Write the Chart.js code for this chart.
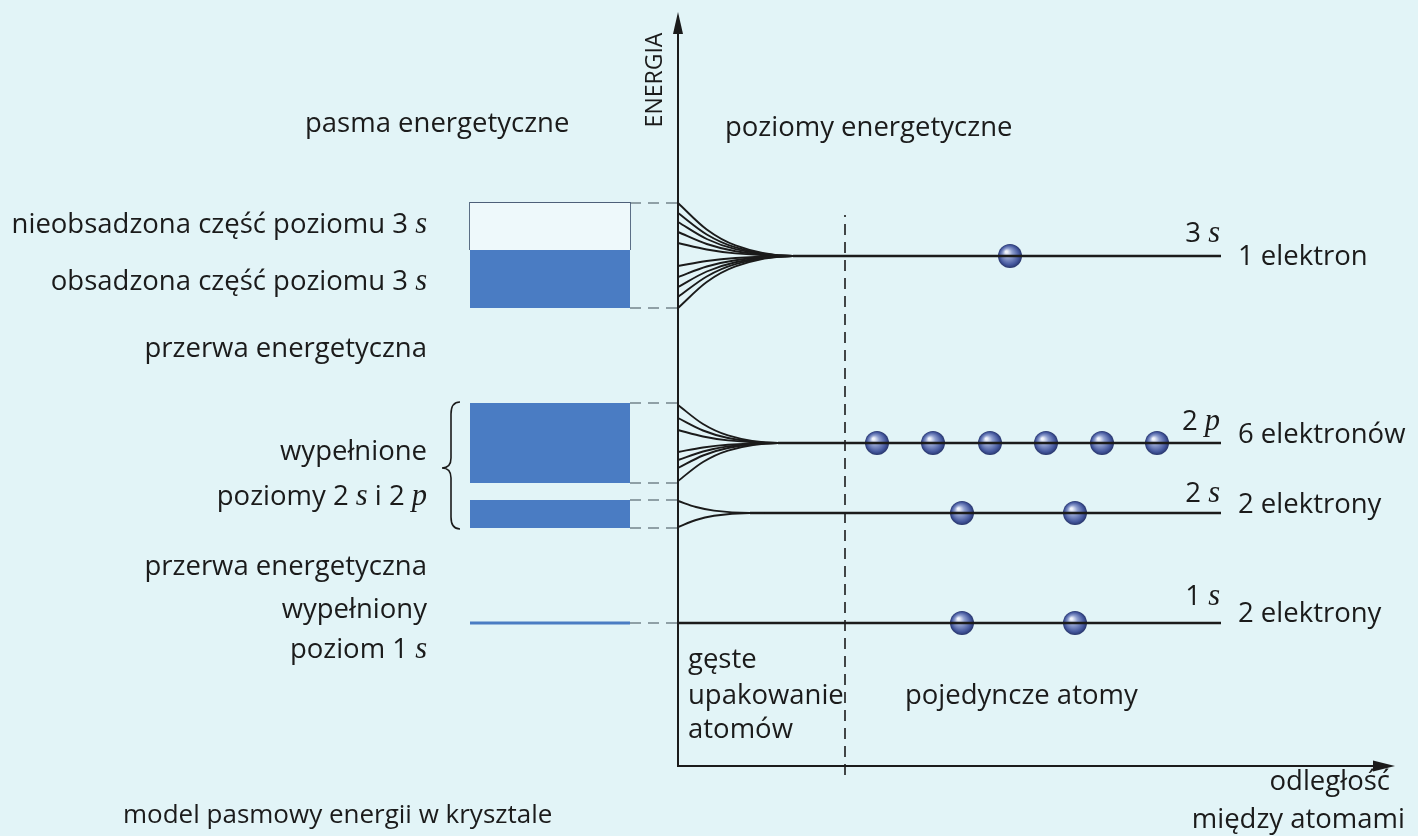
<!DOCTYPE html>
<html>
<head>
<meta charset="utf-8">
<script src="https://cdn.jsdelivr.net/npm/chart.js@4.4.1/dist/chart.umd.min.js"></script>
<style>
html, body { margin: 0; padding: 0; background: #e2f4f7; }
#wrap { width: 1418px; height: 836px; position: relative; }
</style>
</head>
<body>
<div id="wrap"><canvas id="bandChart"></canvas></div>
<script>
// energy levels (arbitrary units), order: 1s, 2s, 2p, 3s
const levelNames = ["1s", "2s", "2p", "3s"];
const levelEnergy = [14.3, 25.3, 32.3, 51.0];
const bandTop = [14.45, 26.6, 36.3, 56.3];
const bandFilledTop = [14.45, 26.6, 36.3, 51.6];
const bandBottom = [14.15, 23.8, 28.3, 45.8];
// where the split lines meet the atomic level (distance units)
const fanEndX = [0, 7.2, 10.0, 11.5];
const fanStarts = [
    [],
    [26.5, 23.9],
    [36.1, 34.8, 33.6, 31.4, 30.6, 29.8, 28.5],
    [56.3, 55.3, 54.4, 53.4, 52.3, 50.0, 48.9, 47.9, 46.9, 45.8]
];
// shape of a split line: share of the way covered vs share of distance
const fanShapeX = [0, 0.25, 0.5, 1, 1.2];
const fanShapeY = [0, 0.5, 0.8, 1, 1];
const electronX = [
    [28.4, 39.7],
    [28.4, 39.7],
    [19.9, 25.5, 31.2, 36.8, 42.4, 47.9],
    [33.2]
];
const levelEndX = 54.3;
const bandX = [-20.8, -4.8];
const packedLimitX = 16.7;
const axisTop = 75.4;
const axisRight = 71.7;

const ink = "#1b1b1b";
const bandBlue = "#4a7cc3";

function makeElectron(r) {
    const c = document.createElement("canvas");
    c.width = c.height = r * 2 + 2;
    const g = c.getContext("2d");
    const cx = r + 1, cy = r + 1;
    const grad = g.createRadialGradient(cx - r * 0.3, cy - r * 0.35, r * 0.08, cx, cy, r);
    grad.addColorStop(0, "#f1f4fb");
    grad.addColorStop(0.35, "#8f9fcf");
    grad.addColorStop(0.8, "#43569c");
    grad.addColorStop(1, "#27356b");
    g.fillStyle = grad;
    g.beginPath();
    g.arc(cx, cy, r, 0, Math.PI * 2);
    g.fill();
    return c;
}

const datasets = [];
const line = (data, opts) => Object.assign({
    data: data, borderColor: ink, borderWidth: 2, pointRadius: 0, fill: false
}, opts || {});

// axes
datasets.push(line([{ x: 0, y: axisTop - 2 }, { x: 0, y: 0 }, { x: axisRight - 2, y: 0 }], { borderWidth: 2 }));
// dense packing limit
datasets.push(line([{ x: packedLimitX, y: -0.9 }, { x: packedLimitX, y: 55.1 }], { borderWidth: 1.6, borderDash: [11, 7] }));

// bands (filled part between two edges)
levelNames.forEach((n, i) => {
    datasets.push(line([{ x: bandX[0], y: bandFilledTop[i] }, { x: bandX[1], y: bandFilledTop[i] }],
        { borderWidth: 0, borderColor: "transparent", backgroundColor: bandBlue, fill: "+1" }));
    datasets.push(line([{ x: bandX[0], y: bandBottom[i] }, { x: bandX[1], y: bandBottom[i] }],
        { borderWidth: 0, borderColor: "transparent" }));
});
// empty upper part of the 3s band
datasets.push(line([{ x: bandX[0], y: bandTop[3] }, { x: bandX[1], y: bandTop[3] }],
    { borderWidth: 0, borderColor: "transparent", backgroundColor: "#eef9fb", fill: "+1" }));
datasets.push(line([{ x: bandX[0], y: bandFilledTop[3] }, { x: bandX[1], y: bandFilledTop[3] }],
    { borderWidth: 0, borderColor: "transparent" }));
datasets.push(line([
    { x: bandX[0], y: bandFilledTop[3] }, { x: bandX[0], y: bandTop[3] },
    { x: bandX[1], y: bandTop[3] }, { x: bandX[1], y: bandFilledTop[3] }
], { borderWidth: 1.8, borderColor: "#4d6079" }));

// dashed connectors band edge -> energy axis
levelNames.forEach((n, i) => {
    [bandTop[i], bandBottom[i]].forEach(e => {
        if (i === 0 && e === bandBottom[0]) return;
        const y = i === 0 ? levelEnergy[0] : e;
        datasets.push(line([{ x: bandX[1], y: y }, { x: 0, y: y }],
            { borderWidth: 1.6, borderColor: "#74848c", borderDash: [11, 7] }));
    });
});

// split lines near the axis
levelNames.forEach((n, i) => {
    fanStarts[i].forEach(s => {
        const pts = fanShapeX.map((fx, k) => ({
            x: fx * fanEndX[i],
            y: s + (levelEnergy[i] - s) * fanShapeY[k]
        }));
        datasets.push(line(pts, { borderWidth: 1.9, cubicInterpolationMode: "monotone" }));
    });
});

// atomic levels
levelNames.forEach((n, i) => {
    datasets.push(line([{ x: fanEndX[i], y: levelEnergy[i] }, { x: levelEndX, y: levelEnergy[i] }], { borderWidth: 2.5 }));
});

// electrons
const electronPts = [];
levelNames.forEach((n, i) => electronX[i].forEach(x => electronPts.push({ x: x, y: levelEnergy[i] })));
datasets.push({
    data: electronPts, showLine: false, pointStyle: makeElectron(12),
    pointRadius: 12, pointHoverRadius: 12
});

// text: [parts, x, y(baseline), align]; a part flagged 1 is an italic symbol
const labels = [
    [[["pasma energetyczne"]], -37.3, 63.4, "left"],
    [[["nieobsadzona część poziomu 3 "], ["s", 1]], -25.1, 53.3, "right"],
    [[["obsadzona część poziomu 3 "], ["s", 1]], -25.1, 47.6, "right"],
    [[["przerwa energetyczna"]], -25.1, 40.9, "right"],
    [[["wypełnione"]], -25.1, 30.6, "right"],
    [[["poziomy 2 "], ["s", 1], [" i 2 "], ["p", 1]], -25.1, 26.1, "right"],
    [[["przerwa energetyczna"]], -25.1, 19.1, "right"],
    [[["wypełniony"]], -25.1, 14.8, "right"],
    [[["poziom 1 "], ["s", 1]], -25.1, 10.8, "right"],
    [[["poziomy energetyczne"]], 4.7, 63.0, "left"],
    [[["3 "], ["s", 1]], 54.2, 52.4, "right"],
    [[["1 elektron"]], 56.0, 50.1, "left"],
    [[["2 "], ["p", 1]], 54.2, 33.6, "right"],
    [[["6 elektronów"]], 56.0, 32.3, "left"],
    [[["2 "], ["s", 1]], 54.2, 26.4, "right"],
    [[["2 elektrony"]], 56.0, 25.3, "left"],
    [[["1 "], ["s", 1]], 54.2, 16.1, "right"],
    [[["2 elektrony"]], 56.0, 14.4, "left"],
    [[["gęste"]], 1.0, 9.8, "left"],
    [[["upakowanie"]], 1.0, 6.2, "left"],
    [[["atomów"]], 1.0, 2.8, "left"],
    [[["pojedyncze atomy"]], 22.7, 6.2, "left"],
    [[["odległość"]], 71.2, -2.4, "right"],
    [[["między atomami"]], 72.7, -6.2, "right"]
];
const caption = "model pasmowy energii w krysztale";
const axisName = "ENERGIA";

function drawParts(ctx, parts, px, py, align, size) {
    const fonts = parts.map(p => p[1] ? `italic ${size + 3}px "Liberation Serif"` : `${size}px "Open Sans"`);
    const widths = parts.map((p, i) => { ctx.font = fonts[i]; return ctx.measureText(p[0]).width; });
    const total = widths.reduce((a, b) => a + b, 0);
    let x = align === "right" ? px - total : px;
    parts.forEach((p, i) => {
        ctx.font = fonts[i];
        ctx.fillText(p[0], x, py);
        x += widths[i];
    });
}

const decor = {
    id: "decor",
    afterDatasetsDraw(chart) {
        const ctx = chart.ctx;
        const xs = chart.scales.x, ys = chart.scales.y;
        ctx.save();
        ctx.fillStyle = ink;
        ctx.strokeStyle = ink;
        // arrow heads
        const ax = xs.getPixelForValue(0), ay = ys.getPixelForValue(0);
        const ty = ys.getPixelForValue(axisTop), tx = xs.getPixelForValue(axisRight);
        ctx.beginPath();
        ctx.moveTo(ax, ty); ctx.lineTo(ax - 5, ty + 22); ctx.lineTo(ax + 5, ty + 22); ctx.closePath();
        ctx.fill();
        ctx.beginPath();
        ctx.moveTo(tx, ay); ctx.lineTo(tx - 22, ay - 5.5); ctx.lineTo(tx - 22, ay + 5.5); ctx.closePath();
        ctx.fill();

        // brace for 2s and 2p bands
        const bx = xs.getPixelForValue(-22.7), br = xs.getPixelForValue(-21.8), bl = xs.getPixelForValue(-23.6);
        const bt = ys.getPixelForValue(bandTop[2] + 0.1), bb = ys.getPixelForValue(bandBottom[1] - 0.1);
        const bc = ys.getPixelForValue(29.8);
        ctx.lineWidth = 1.6;
        ctx.beginPath();
        ctx.moveTo(br, bt);
        ctx.quadraticCurveTo(bx, bt, bx, bt + 12);
        ctx.lineTo(bx, bc - 10);
        ctx.quadraticCurveTo(bx, bc, bl, bc);
        ctx.quadraticCurveTo(bx, bc, bx, bc + 10);
        ctx.lineTo(bx, bb - 12);
        ctx.quadraticCurveTo(bx, bb, br, bb);
        ctx.stroke();

        ctx.textBaseline = "alphabetic";
        ctx.textAlign = "left";
        labels.forEach(l => drawParts(ctx, l[0], xs.getPixelForValue(l[1]), ys.getPixelForValue(l[2]), l[3], 27.5));

        ctx.font = '500 26px "Open Sans"';
        ctx.fillText(caption, xs.getPixelForValue(-55.5), ys.getPixelForValue(-5.7));

        ctx.translate(xs.getPixelForValue(-2.3), ys.getPixelForValue(68.6));
        ctx.rotate(-Math.PI / 2);
        ctx.textAlign = "center";
        ctx.textBaseline = "middle";
        ctx.font = '23px "Open Sans"';
        ctx.fillText(axisName, 0, 0);
        ctx.restore();
    }
};

new Chart(document.getElementById("bandChart"), {
    type: "line",
    data: { datasets: datasets },
    options: {
        responsive: true,
        maintainAspectRatio: false,
        animation: false,
        events: [],
        layout: { padding: 0, autoPadding: false },
        plugins: { legend: { display: false }, tooltip: { enabled: false } },
        scales: {
            x: { type: "linear", min: -67.8, max: 74.0, display: false },
            y: { type: "linear", min: -7.0, max: 76.6, display: false }
        }
    },
    plugins: [decor]
});
</script>
</body>
</html>
